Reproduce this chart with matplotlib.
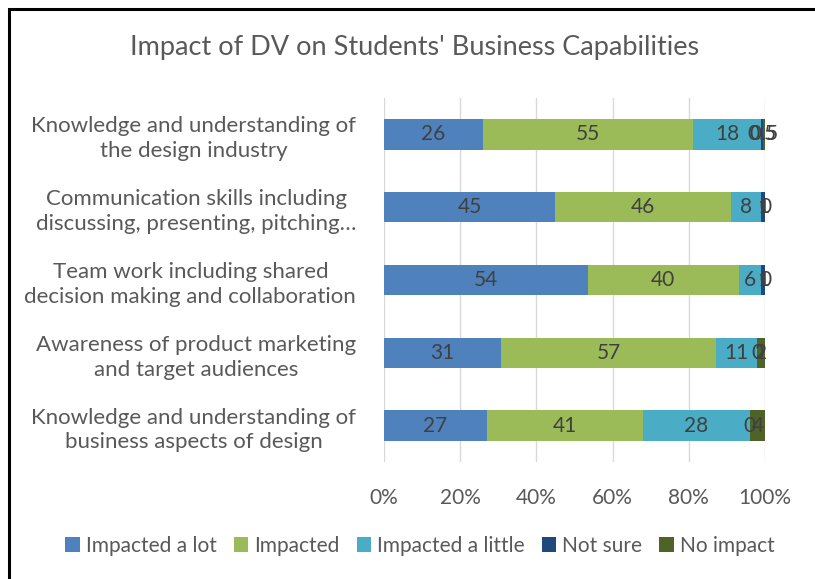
import numpy as np
import matplotlib.pyplot as plt
from matplotlib.patches import Rectangle

plt.rcParams['font.family'] = ['Lato', 'DejaVu Sans']

categories = ['Knowledge and understanding of\nthe design industry',
              'Communication skills including\ndiscussing, presenting, pitching\u2026',
              'Team work including shared\ndecision making and collaboration',
              'Awareness of product marketing\nand target audiences',
              'Knowledge and understanding of\nbusiness aspects of design']
series = ['Impacted a lot', 'Impacted', 'Impacted a little', 'Not sure', 'No impact']
lot = [26, 45, 54, 31, 27]
impacted = [55, 46, 40, 57, 41]
little = [18, 8, 6, 11, 28]
not_sure = [0.5, 1, 1, 0, 0]
no_impact = [0.5, 0, 0, 2, 4]
colors = ['#4F81BD', '#9BBB59', '#4BACC6', '#1F497D', '#4F6228']

data = np.array([lot, impacted, little, not_sure, no_impact], dtype=float)
pct = data / data.sum(axis=0) * 100

fig = plt.figure(figsize=(8.15, 5.79), dpi=100)
ax = fig.add_axes([384/815, 1-462/579, 381/815, 364/579])

y = np.arange(len(categories))
left = np.zeros(len(categories))
for i, name in enumerate(series):
    ax.barh(y, pct[i], left=left, height=0.42, color=colors[i], label=name, zorder=2)
    for j in range(len(categories)):
        ax.text(left[j] + pct[i, j] / 2, y[j], '%g' % data[i, j], ha='center', va='center',
                fontsize=15, color='#404040', zorder=3)
    left += pct[i]

ax.set_xlim(0, 100)
ax.set_ylim(4.5, -0.5)
ax.set_xticks(np.arange(0, 101, 20))
ax.set_xticklabels(['%d%%' % t for t in range(0, 101, 20)])
ax.set_yticks(y)
ax.set_yticklabels(categories, multialignment='center', linespacing=1.3)
ax.tick_params(axis='both', length=0, labelcolor='#595959')
ax.tick_params(axis='x', labelsize=15, pad=19)
ax.tick_params(axis='y', labelsize=16, pad=20)
ax.grid(axis='x', color='#D9D9D9', linewidth=1, zorder=0)
for s in ax.spines.values():
    s.set_visible(False)

fig.text(415/815, 1-48/579, "Impact of DV on Students' Business Capabilities",
         ha='center', va='center', fontsize=19.5, color='#595959')

fig.legend(loc='center', bbox_to_anchor=(420/815, 1-546/579), ncol=5,
           frameon=False, fontsize=15, labelcolor='#595959',
           handlelength=0.7, handleheight=0.7, handletextpad=0.3, columnspacing=0.8)

fig.patches.append(Rectangle((9/815, -0.1), 1.2, 1 - 9/579 + 0.1, transform=fig.transFigure,
                             fill=False, edgecolor='black', linewidth=2.2))

fig.savefig('out.png', dpi=100)
